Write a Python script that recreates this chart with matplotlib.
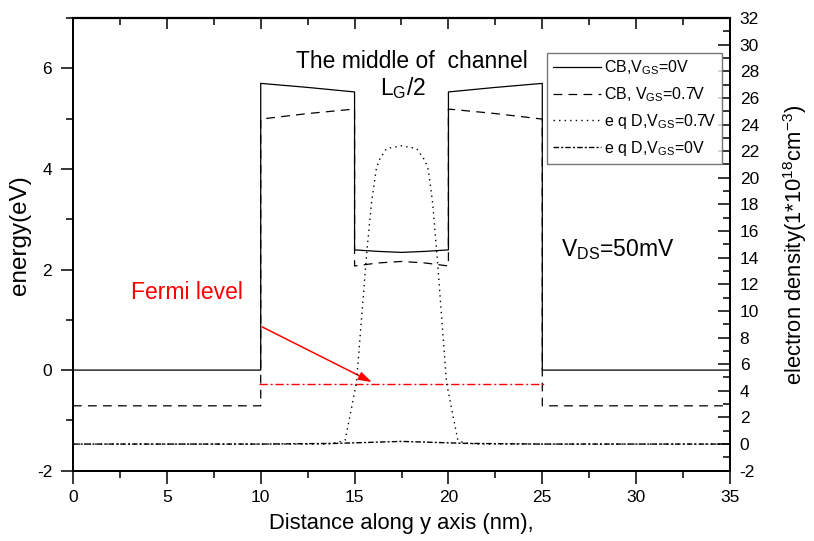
import matplotlib
matplotlib.use("Agg")
import matplotlib.pyplot as plt
from matplotlib.ticker import MultipleLocator

plt.rcParams['font.family'] = ['Liberation Sans', 'DejaVu Sans']
plt.rcParams['mathtext.default'] = 'regular'
plt.rcParams['axes.unicode_minus'] = False

# ---- data ----
x_cb = [0, 10, 10, 12.5, 15, 15, 16.25, 17.5, 18.75, 20, 20, 22.5, 25, 25, 35]
cb_vgs0 = [0, 0, 5.70, 5.62, 5.53, 2.39, 2.36, 2.34, 2.36, 2.39, 5.53, 5.62, 5.70, 0, 0]
cb_vgs07 = [-0.71, -0.71, 4.99, 5.10, 5.19, 2.07, 2.13, 2.16, 2.13, 2.07, 5.19, 5.10, 4.99, -0.71, -0.71]

x_n07 = [0, 13.5, 14.05, 14.5, 15.1, 15.65, 15.9, 16.15, 16.3, 16.7, 17.5,
         18.3, 18.75, 18.93, 19.16, 19.38, 19.9, 20.5, 20.8, 21.5, 35]
n_vgs07 = [0, 0, 0.1, 0.3, 4.6, 14.4, 18.1, 20.6, 21.3, 22.2, 22.4,
           22.2, 21.3, 20.6, 18.1, 14.4, 4.6, 0.3, 0.1, 0, 0]

x_n0 = [0, 10, 14, 17.5, 21, 25, 35]
n_vgs0 = [0, 0, 0.05, 0.2, 0.05, 0, 0]

x_fermi = [9.9, 25.1]
e_fermi = [-0.27, -0.27]

labels = ['CB,V$_{GS}$=0V', 'CB, V$_{GS}$=0.7V', 'e q D,V$_{GS}$=0.7V', 'e q D,V$_{GS}$=0V']

# ---- figure ----
fig = plt.figure(figsize=(8.14, 5.41), dpi=100)
ax = fig.add_axes([73/814, 1-470.7/541, (730-73)/814, (470.7-18)/541])
ax2 = ax.twinx()

lw = 0.9
l1, = ax.plot(x_cb, cb_vgs0, color='black', lw=lw, ls='-')
l2, = ax.plot(x_cb, cb_vgs07, color='black', lw=lw, ls=(0, (7, 5)))
ax.plot(x_fermi, e_fermi, color='red', lw=1.0, ls=(0, (6, 2, 1.5, 2)))
l3, = ax2.plot(x_n07, n_vgs07, color='black', lw=1.0, ls=(0, (1, 3)))
l4, = ax2.plot(x_n0, n_vgs0, color='black', lw=1.0, ls=(0, (4, 1.5, 1.5, 1.5)))

ax.set_xlim(0, 35)
ax.set_ylim(-2, 7)
ax2.set_ylim(-2, 32)

ax.xaxis.set_major_locator(MultipleLocator(5))
ax.xaxis.set_minor_locator(MultipleLocator(2.5))
ax.yaxis.set_major_locator(MultipleLocator(2))
ax.yaxis.set_minor_locator(MultipleLocator(1))
ax2.yaxis.set_major_locator(MultipleLocator(2))
ax2.yaxis.set_minor_locator(MultipleLocator(1))

ax.tick_params(axis='both', which='major', direction='out', length=9, width=1.1, labelsize=12.5)
ax.tick_params(axis='both', which='minor', direction='out', length=5, width=1.1)
ax.tick_params(axis='y', which='major', pad=6)
ax.tick_params(axis='x', which='major', pad=5)
ax.tick_params(axis='y', right=False)
ax.tick_params(axis='x', top=False)
ax2.tick_params(axis='y', which='major', direction='in', length=9, width=1.1, labelsize=12.5, pad=7)
ax2.tick_params(axis='y', which='minor', direction='in', length=5, width=1.1)

secx = ax.secondary_xaxis('top')
secx.xaxis.set_major_locator(MultipleLocator(5))
secx.xaxis.set_minor_locator(MultipleLocator(2.5))
secx.tick_params(axis='x', which='major', direction='in', length=8, width=1.1, labeltop=False)
secx.tick_params(axis='x', which='minor', direction='in', length=5, width=1.1)

for a in (ax, ax2):
    for s in a.spines.values():
        s.set_linewidth(1.3)
secx.spines['top'].set_linewidth(1.6)

ax.set_xlabel('Distance along y axis (nm),', fontsize=15.8, labelpad=6)
ax.set_ylabel('energy(eV)', fontsize=17.5, labelpad=6)
ax.yaxis.set_label_coords(-0.064, 0.52)
ax2.set_ylabel('electron density(1*10$^{18}$cm$^{-3}$)', fontsize=15.8, labelpad=16)

ax.text(18.06, 6.13, 'The middle of  channel', fontsize=16.5, ha='center', va='center')
ax.text(17.6, 5.6, 'L$_G$/2', fontsize=16.5, ha='center', va='center')
ax.text(29.0, 2.39, 'V$_{DS}$=50mV', fontsize=16.5, ha='center', va='center')
ax.text(6.05, 1.55, 'Fermi level', fontsize=16.5, ha='center', va='center', color='red')
ax.annotate('', xy=(15.93, -0.24), xytext=(10.07, 0.86),
            arrowprops=dict(arrowstyle='-|>,head_length=0.8,head_width=0.25', color='red', lw=1.1,
                            shrinkA=0, shrinkB=0))

leg = ax2.legend([l1, l2, l3, l4], labels, loc='upper right',
                 bbox_to_anchor=(722/814, 1-53/541), bbox_transform=fig.transFigure,
                 fontsize=11.5, frameon=True, fancybox=False, handlelength=3.0,
                 handletextpad=0.2, borderpad=0.35, labelspacing=0.5, borderaxespad=0)
leg.get_frame().set_edgecolor('#555555')
leg.get_frame().set_linewidth(1.0)

fig.savefig('out.png', dpi=100)
